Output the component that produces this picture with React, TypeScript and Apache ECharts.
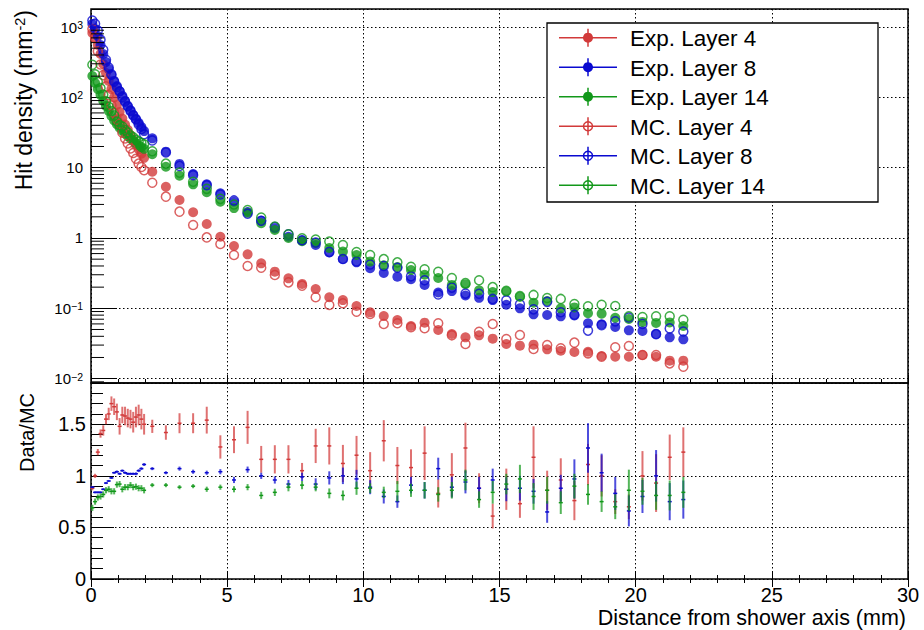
import React, { useEffect, useRef } from 'react';
import * as echarts from 'echarts';

const FONT = '"Liberation Sans", Arial, Helvetica, sans-serif';
const RED = '#d23a3a';
const BLUE = '#0a0ad0';
const GREEN = '#12981a';

const distance = [
  0.05, 0.15, 0.25, 0.35, 0.45, 0.55, 0.65, 0.75, 0.85, 0.95,
  1.05, 1.15, 1.25, 1.35, 1.45, 1.55, 1.65, 1.75, 1.85, 1.95,
  2.25, 2.75, 3.25, 3.75, 4.25, 4.75, 5.25, 5.75, 6.25, 6.75,
  7.25, 7.75, 8.25, 8.75, 9.25, 9.75, 10.25, 10.75, 11.25, 11.75,
  12.25, 12.75, 13.25, 13.75, 14.25, 14.75, 15.25, 15.75, 16.25, 16.75,
  17.25, 17.75, 18.25, 18.75, 19.25, 19.75, 20.25, 20.75, 21.25, 21.75,
];

const expLayer4 = [
  822, 698, 555, 413, 298, 222, 171, 131, 100, 78,
  62, 50, 41, 34.5, 29, 24.6, 21, 18.2, 15.8, 13.8,
  8.77, 5.36, 3.47, 2.32, 1.58, 1.04, 0.77, 0.586, 0.436, 0.332,
  0.267, 0.222, 0.188, 0.1435, 0.131, 0.108, 0.0877, 0.0778, 0.0682, 0.0561,
  0.0625, 0.0492, 0.0431, 0.0387, 0.0413, 0.037, 0.0311, 0.0294, 0.0304, 0.0261,
  0.0249, 0.0239, 0.0241, 0.021, 0.0205, 0.0205, 0.0217, 0.0205, 0.018, 0.018,
];
const expLayer8 = [
  1100, 937, 745, 555, 413, 318, 253, 208, 171, 145,
  123, 105, 89, 75.5, 65.4, 56.3, 49.3, 43.3, 37.9, 33.1,
  26.1, 16.9, 11.3, 8.13, 5.8, 4.32, 3.28, 2.34, 1.76, 1.37,
  1.04, 0.92, 0.795, 0.622, 0.502, 0.451, 0.371, 0.318, 0.282, 0.259,
  0.215, 0.168, 0.176, 0.152, 0.141, 0.131, 0.1125, 0.1, 0.0822, 0.0803,
  0.0769, 0.079, 0.0612, 0.0594, 0.0542, 0.0486, 0.0476, 0.0431, 0.0387, 0.0362,
];
const expLayer14 = [
  201, 160, 131, 108, 89, 75.3, 64, 54.4, 47, 41.5,
  37, 33.5, 30.5, 28, 26, 24, 22.3, 20.8, 19.6, 18.5,
  15.5, 10.3, 7.69, 5.8, 4.47, 3.28, 2.66, 2.28, 1.62, 1.3,
  1.0, 0.9, 0.85, 0.72, 0.64, 0.573, 0.464, 0.41, 0.387, 0.35,
  0.3, 0.27, 0.215, 0.22, 0.18, 0.17, 0.173, 0.146, 0.12, 0.127,
  0.1, 0.103, 0.0853, 0.084, 0.0735, 0.0705, 0.064, 0.062, 0.063, 0.056,
];
const mcLayer4 = [
  934, 698, 451, 293, 207, 143, 107, 77, 60, 48,
  42, 31.4, 26, 22.1, 18.7, 16.2, 13.4, 11.4, 10.2, 9.2,
  6.11, 3.87, 2.37, 1.53, 1.02, 0.82, 0.573, 0.4, 0.378, 0.298,
  0.234, 0.21, 0.1435, 0.1114, 0.118, 0.0895, 0.083, 0.0598, 0.0612, 0.0537,
  0.052, 0.0612, 0.0413, 0.0311, 0.0465, 0.0598, 0.0366, 0.0418, 0.0264, 0.0301,
  0.027, 0.0325, 0.0229, 0.0205, 0.0279, 0.0291, 0.0217, 0.0217, 0.0165, 0.0148,
];
const mcLayer8 = [
  1236, 1115, 887, 661, 475, 342, 266, 212, 166, 139,
  121, 100, 86.4, 74, 64.1, 55.2, 48.3, 41.2, 35.4, 29.8,
  24.4, 16.4, 10.6, 7.82, 5.63, 4.15, 3.42, 2.21, 1.76, 1.43,
  1.13, 0.93, 0.864, 0.635, 0.502, 0.464, 0.419, 0.4, 0.378, 0.285,
  0.25, 0.157, 0.197, 0.162, 0.161, 0.136, 0.13, 0.114, 0.0967, 0.1235,
  0.0878, 0.0812, 0.0482, 0.0577, 0.0653, 0.074, 0.0599, 0.0429, 0.0518, 0.0468,
];
const mcLayer14 = [
  291, 213, 166, 135, 108.5, 87.6, 73.6, 64, 55.3, 45.4,
  40.2, 38.5, 34.3, 31.5, 28.6, 27, 24.9, 23.6, 22.3, 21.5,
  17.1, 11.4, 8.5, 6.3, 5.0, 3.6, 3.0, 2.5, 1.96, 1.45,
  1.13, 0.99, 0.95, 0.89, 0.795, 0.63, 0.573, 0.5, 0.45, 0.39,
  0.36, 0.33, 0.27, 0.228, 0.25, 0.2, 0.178, 0.149, 0.155, 0.14,
  0.136, 0.115, 0.107, 0.112, 0.108, 0.077, 0.075, 0.077, 0.077, 0.0685,
];

const ratioLayer4 = [
  0.88, 1.0, 1.23, 1.41, 1.44, 1.55, 1.6, 1.7, 1.67, 1.62,
  1.48, 1.59, 1.58, 1.56, 1.55, 1.52, 1.57, 1.59, 1.55, 1.5,
  1.48, 1.42, 1.51, 1.51, 1.54, 1.28, 1.35, 1.47, 1.16, 1.16,
  1.16, 1.05, 1.29, 1.29, 1.12, 1.2, 1.05, 1.34, 1.1, 1.08,
  1.22, 0.83, 1.01, 1.27, 0.88, 0.61, 0.87, 0.73, 1.18, 0.86,
  0.96, 0.76, 1.11, 1.0, 0.75, 0.7, 1.0, 0.93, 1.18, 1.23,
];
const ratioErrLayer4 = [
  0.02, 0.02, 0.03, 0.04, 0.05, 0.05, 0.06, 0.07, 0.08, 0.08,
  0.08, 0.08, 0.09, 0.09, 0.09, 0.1, 0.1, 0.1, 0.1, 0.1,
  0.064, 0.07, 0.097, 0.097, 0.13, 0.113, 0.13, 0.16, 0.13, 0.137,
  0.137, 0.075, 0.166, 0.18, 0.18, 0.187, 0.18, 0.2, 0.18, 0.177,
  0.26, 0.137, 0.21, 0.245, 0.145, 0.12, 0.2, 0.137, 0.3, 0.19,
  0.21, 0.19, 0.2, 0.2, 0.12, 0.12, 0.24, 0.28, 0.22, 0.24,
];
const ratioLayer8 = [
  0.89, 0.84, 0.84, 0.84, 0.87, 0.93, 0.95, 0.98, 1.03, 1.04,
  1.02, 1.05, 1.03, 1.02, 1.02, 1.02, 1.02, 1.05, 1.07, 1.11,
  1.07, 1.03, 1.07, 1.04, 1.03, 1.04, 0.96, 1.06, 1.0, 0.96,
  0.92, 0.99, 0.92, 0.98, 1.0, 0.97, 0.89, 0.8, 0.75, 0.91,
  0.86, 1.07, 0.89, 0.94, 0.88, 0.96, 0.87, 0.88, 0.85, 0.65,
  0.88, 0.97, 1.27, 1.03, 0.83, 0.66, 0.8, 1.0, 0.75, 0.77,
];
const ratioErrLayer8 = [
  0.01, 0.01, 0.01, 0.01, 0.01, 0.01, 0.01, 0.01, 0.01, 0.012,
  0.012, 0.012, 0.012, 0.012, 0.012, 0.012, 0.014, 0.014, 0.014, 0.014,
  0.015, 0.015, 0.02, 0.02, 0.02, 0.025, 0.03, 0.03, 0.03, 0.035,
  0.04, 0.04, 0.056, 0.064, 0.08, 0.088, 0.068, 0.068, 0.06, 0.08,
  0.08, 0.106, 0.1, 0.11, 0.11, 0.11, 0.116, 0.12, 0.12, 0.105,
  0.13, 0.19, 0.24, 0.185, 0.16, 0.15, 0.16, 0.25, 0.18, 0.185,
];
const ratioLayer14 = [
  0.69, 0.75, 0.79, 0.8, 0.82, 0.86, 0.87, 0.85, 0.85, 0.915,
  0.92, 0.87, 0.89, 0.89, 0.91, 0.89, 0.895, 0.88, 0.88, 0.86,
  0.91, 0.91, 0.89, 0.9, 0.87, 0.89, 0.87, 0.89, 0.81, 0.84,
  0.89, 0.91, 0.89, 0.83, 0.81, 0.88, 0.88, 0.84, 0.85, 0.86,
  0.86, 0.82, 0.86, 0.96, 0.77, 0.84, 0.92, 0.97, 0.8, 0.86,
  0.74, 0.9, 0.82, 0.75, 0.7, 0.86, 0.85, 0.81, 0.81, 0.84,
];
const ratioErrLayer14 = [
  0.03, 0.03, 0.03, 0.03, 0.03, 0.03, 0.03, 0.03, 0.03, 0.03,
  0.03, 0.03, 0.03, 0.03, 0.03, 0.03, 0.03, 0.03, 0.03, 0.03,
  0.02, 0.02, 0.02, 0.02, 0.025, 0.025, 0.03, 0.03, 0.035, 0.035,
  0.04, 0.04, 0.04, 0.048, 0.048, 0.064, 0.048, 0.055, 0.1, 0.064,
  0.08, 0.07, 0.08, 0.1, 0.08, 0.11, 0.1, 0.137, 0.13, 0.13,
  0.11, 0.12, 0.1, 0.1, 0.12, 0.2, 0.13, 0.14, 0.145, 0.15,
];

const Y_MIN = 0.00867;
const Y_MAX = 1803;
const R_MAX = 1.9;

const layers = [
  { label: 'Layer 4', color: RED, exp: expLayer4, mc: mcLayer4, ratio: ratioLayer4, err: ratioErrLayer4 },
  { label: 'Layer 8', color: BLUE, exp: expLayer8, mc: mcLayer8, ratio: ratioLayer8, err: ratioErrLayer8 },
  { label: 'Layer 14', color: GREEN, exp: expLayer14, mc: mcLayer14, ratio: ratioLayer14, err: ratioErrLayer14 },
];

function buildOption() {
  const minorLog: number[][] = [];
  for (let e = -3; e <= 3; e++) {
    for (let k = 2; k <= 9; k++) {
      const v = k * Math.pow(10, e);
      if (v > Y_MIN && v < Y_MAX) minorLog.push([0, v]);
    }
  }

  const dotted = { color: '#000', width: 1, type: [1.5, 2.5] as number[] };
  const tickStyle = { color: '#000', width: 1 };

  const series: any[] = [];
  layers.forEach((l) => {
    series.push({
      name: 'Exp. ' + l.label,
      type: 'scatter',
      xAxisIndex: 0,
      yAxisIndex: 0,
      symbol: 'circle',
      symbolSize: 10,
      itemStyle: { color: l.color },
      data: distance.map((d, i) => [d, l.exp[i]]),
      z: 3,
    });
  });
  layers.forEach((l) => {
    series.push({
      name: 'MC. ' + l.label,
      type: 'scatter',
      xAxisIndex: 0,
      yAxisIndex: 0,
      symbol: 'circle',
      symbolSize: 9,
      itemStyle: { color: 'rgba(255,255,255,0)', borderColor: l.color, borderWidth: 1.5 },
      data: distance.map((d, i) => [d, l.mc[i]]),
      z: 4,
    });
  });
  series.push({
    type: 'custom',
    xAxisIndex: 0,
    yAxisIndex: 0,
    silent: true,
    clip: false,
    data: minorLog,
    z: 5,
    renderItem: (_p: any, api: any) => {
      const c = api.coord([0, api.value(1)]);
      return {
        type: 'line',
        shape: { x1: c[0], y1: c[1], x2: c[0] + 13, y2: c[1] },
        style: { stroke: '#000', lineWidth: 1 },
      };
    },
  });
  layers.forEach((l) => {
    series.push({
      name: 'Ratio ' + l.label,
      type: 'custom',
      xAxisIndex: 1,
      yAxisIndex: 1,
      silent: true,
      encode: { x: 0, y: 1 },
      data: distance.map((d, i) => [d, l.ratio[i], l.err[i]]),
      z: 3,
      renderItem: (_p: any, api: any) => {
        const x = api.value(0);
        const y = api.value(1);
        const e = api.value(2);
        const c = api.coord([x, y]);
        const t = api.coord([x, y + e]);
        const b = api.coord([x, y - e]);
        return {
          type: 'group',
          children: [
            {
              type: 'line',
              shape: { x1: c[0], y1: t[1], x2: c[0], y2: b[1] },
              style: { stroke: l.color, lineWidth: 2, opacity: 0.72 },
            },
            {
              type: 'line',
              shape: { x1: c[0] - 2, y1: c[1], x2: c[0] + 2, y2: c[1] },
              style: { stroke: l.color, lineWidth: 1.5 },
            },
          ],
        };
      },
    });
  });

  const legendItems = [
    ...layers.map((l) => ({ name: 'Exp. ' + l.label, color: l.color, filled: true })),
    ...layers.map((l) => ({ name: 'MC. ' + l.label, color: l.color, filled: false })),
  ];
  const legendTop = 37.7;
  const legendStep = 29.5;
  const graphics: any[] = [
    {
      type: 'rect',
      shape: { x: 547, y: 23, width: 331, height: 179 },
      style: { fill: '#fff', stroke: '#000', lineWidth: 1.3 },
      z: 100,
    },
  ];
  legendItems.forEach((it, i) => {
    const cy = legendTop + i * legendStep;
    graphics.push(
      { type: 'line', shape: { x1: 559, y1: cy, x2: 617, y2: cy }, style: { stroke: it.color, lineWidth: 1.5 }, z: 101 },
      { type: 'line', shape: { x1: 588, y1: cy - 9, x2: 588, y2: cy + 9 }, style: { stroke: it.color, lineWidth: 1.5 }, z: 101 },
      {
        type: 'circle',
        shape: { cx: 588, cy, r: it.filled ? 5 : 4.5 },
        style: it.filled ? { fill: it.color } : { fill: 'none', stroke: it.color, lineWidth: 1.5 },
        z: 102,
      },
      {
        type: 'text',
        x: 630,
        y: cy + 1,
        style: { text: it.name, fontSize: 22.5, fontFamily: FONT, fill: '#000', align: 'left', verticalAlign: 'middle' },
        z: 102,
      }
    );
  });
  graphics.push(
    {
      type: 'text',
      x: 24,
      y: 10,
      rotation: Math.PI / 2,
      style: {
        text: 'Hit density (mm{sup|-2})',
        fontSize: 23,
        fontFamily: FONT,
        fill: '#000',
        align: 'right',
        verticalAlign: 'middle',
        rich: { sup: { fontSize: 14.5, fontFamily: FONT, fill: '#000', verticalAlign: 'top', lineHeight: 14 } },
      },
      z: 50,
    },
    {
      type: 'text',
      x: 27,
      y: 393,
      rotation: Math.PI / 2,
      style: { text: 'Data/MC', fontSize: 20, fontFamily: FONT, fill: '#000', align: 'right', verticalAlign: 'middle' },
      z: 50,
    },
    {
      type: 'text',
      x: 906,
      y: 618,
      style: {
        text: 'Distance from shower axis (mm)',
        fontSize: 21.5,
        fontFamily: FONT,
        fill: '#000',
        align: 'right',
        verticalAlign: 'middle',
      },
      z: 50,
    }
  );

  const logFormatter = (v: number) => {
    const lg = Math.log10(v);
    const e = Math.round(lg);
    if (Math.abs(lg - e) > 1e-6) return '';
    if (e === 0) return '1';
    if (e === 1) return '10';
    return '10{sup|' + (e < 0 ? '\u2212' + -e : String(e)) + '}';
  };

  const xCommon = {
    type: 'value',
    min: 0,
    max: 30,
    interval: 5,
    axisLine: { show: false },
    axisTick: { show: true, inside: true, length: 8, lineStyle: tickStyle },
    minorTick: { show: true, splitNumber: 5, length: 4, lineStyle: tickStyle },
  };

  return {
    animation: false,
    backgroundColor: '#fff',
    grid: [
      { left: 91, top: 9, width: 817, height: 374, show: true, borderColor: '#000', borderWidth: 1.5, backgroundColor: 'transparent' },
      { left: 91, top: 383, width: 817, height: 196, show: true, borderColor: '#000', borderWidth: 1.5, backgroundColor: 'transparent' },
    ],
    xAxis: [
      { ...xCommon, gridIndex: 0, position: 'bottom', axisLabel: { show: false }, splitLine: { show: true, lineStyle: dotted } },
      {
        ...xCommon,
        gridIndex: 1,
        position: 'bottom',
        axisLabel: { show: true, fontSize: 20, fontFamily: FONT, color: '#000', margin: 6, lineHeight: 20 },
        splitLine: { show: true, lineStyle: dotted },
      },
      { ...xCommon, gridIndex: 1, position: 'top', axisLabel: { show: false }, splitLine: { show: false } },
    ],
    yAxis: [
      {
        gridIndex: 0,
        type: 'log',
        logBase: 10,
        min: Y_MIN,
        max: Y_MAX,
        axisLine: { show: false },
        axisTick: { show: true, inside: true, length: 26, lineStyle: tickStyle },
        minorTick: { show: false },
        axisLabel: {
          show: true,
          fontSize: 15,
          fontFamily: FONT,
          color: '#000',
          margin: 8,
          formatter: logFormatter,
          rich: { sup: { fontSize: 10.5, fontFamily: FONT, color: '#000', verticalAlign: 'top', lineHeight: 10 } },
        },
        splitLine: { show: true, lineStyle: dotted },
      },
      {
        gridIndex: 1,
        type: 'value',
        min: 0,
        max: R_MAX,
        interval: 0.5,
        axisLine: { show: false },
        axisTick: { show: true, inside: true, length: 23, lineStyle: tickStyle },
        axisLabel: {
          show: true,
          fontSize: 20,
          fontFamily: FONT,
          color: '#000',
          margin: 5,
          formatter: (v: number) => (Math.abs(v / 0.5 - Math.round(v / 0.5)) < 1e-6 ? String(v) : ''),
        },
        splitLine: { show: true, lineStyle: dotted },
      },
      {
        gridIndex: 1,
        type: 'value',
        min: 0,
        max: R_MAX,
        interval: 0.1,
        position: 'left',
        axisLine: { show: false },
        axisTick: { show: true, inside: true, length: 12, lineStyle: tickStyle },
        axisLabel: { show: false },
        splitLine: { show: false },
      },
    ],
    series,
    graphic: { elements: graphics },
  };
}

export default function App() {
  const ref = useRef<HTMLDivElement>(null);
  useEffect(() => {
    if (!ref.current) return;
    const chart = echarts.init(ref.current, null, { renderer: 'svg' });
    chart.setOption(buildOption() as any);
    return () => chart.dispose();
  }, []);
  return (
    <div
      ref={ref}
      style={{ position: 'fixed', left: 0, top: 0, width: 924, height: 630, background: '#fff' }}
    />
  );
}
